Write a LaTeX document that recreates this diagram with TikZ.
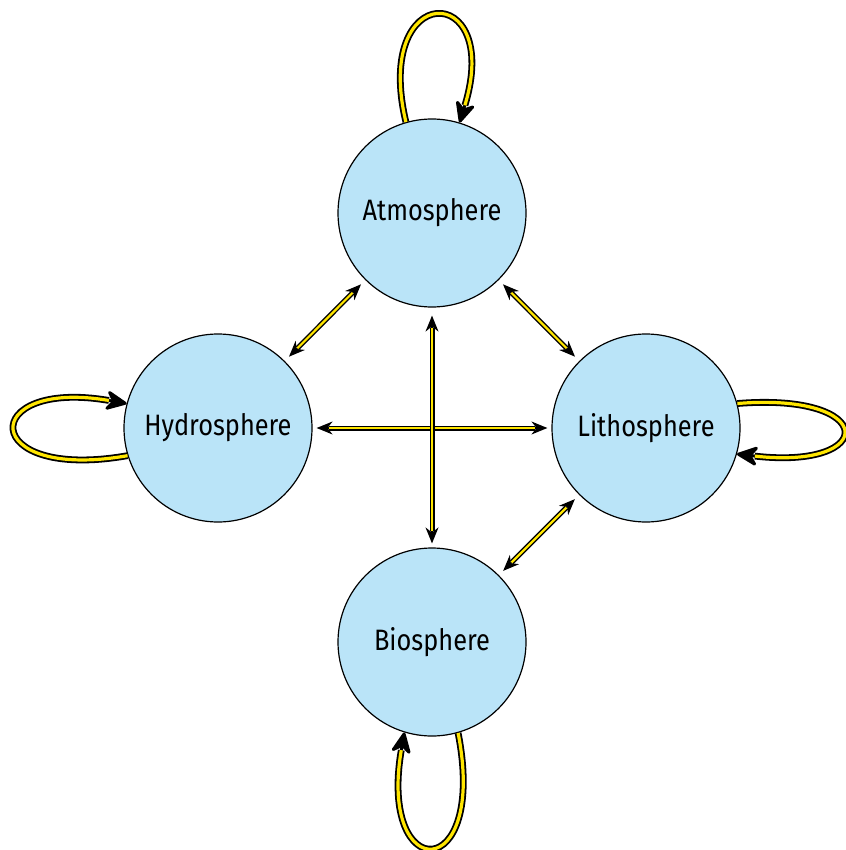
\documentclass[tikz,border=0pt]{standalone}
\usepackage{fontspec}
\setmainfont[FakeStretch=0.86]{Fira Sans}
\usetikzlibrary{arrows.meta}
\definecolor{sphere}{RGB}{186,228,248}
\definecolor{flow}{RGB}{255,230,0}
\begin{document}
\begin{tikzpicture}[x=1pt,y=-1pt,
  sphere/.style={circle,draw=black,line width=1.2pt,fill=sphere,minimum size=188pt,inner sep=0pt,font=\fontsize{29.5}{34}\selectfont},
  linktip/.style={draw=black,line width=1.5pt,
    {Stealth[length=16pt,width=13pt]}-{Stealth[length=16pt,width=13pt]}},
  linkbody/.style={draw=black,line width=1.4pt,double=flow,double distance=2.2pt},
  looptip/.style={draw=black,line width=3pt,
    -{Stealth[length=25pt,width=23pt,round]}},
  loopbody/.style={draw=black,line width=1.8pt,double=flow,double distance=3.2pt}]
\useasboundingbox (0,0) rectangle (845,850);
\node[sphere] (atm) at (432,213) {Atmosphere};
\node[sphere] (hyd) at (218,428) {Hydrosphere};
\node[sphere] (lit) at (646,428) {Lithosphere};
\node[sphere] (bio) at (432,642) {Biosphere};
% straight links: tips first, then double body on top
\draw[linktip,shorten <=6pt,shorten >=6pt] (atm) -- (hyd);
\draw[linkbody,shorten <=18pt,shorten >=18pt] (atm) -- (hyd);
\draw[linktip,shorten <=6pt,shorten >=6pt] (atm) -- (lit);
\draw[linkbody,shorten <=18pt,shorten >=18pt] (atm) -- (lit);
\draw[linktip,shorten <=6pt,shorten >=6pt] (lit) -- (bio);
\draw[linkbody,shorten <=18pt,shorten >=18pt] (lit) -- (bio);
\draw[linktip,shorten <=4pt,shorten >=4pt] (hyd) -- (lit);
\draw[linkbody,shorten <=16pt,shorten >=16pt] (hyd) -- (lit);
\draw[linktip,shorten <=8pt,shorten >=4pt] (atm) -- (bio);
\draw[linkbody,shorten <=20pt,shorten >=16pt] (atm) -- (bio);
% self loops
\draw[looptip] (atm.106) .. controls (372,-20) and (503,-20) .. (atm.73);
\draw[loopbody,shorten >=18pt] (atm.106) .. controls (372,-20) and (503,-20) .. (atm.73);
\draw[looptip] (hyd.197) .. controls (-22,482) and (-22,378) .. (hyd.165);
\draw[loopbody,shorten >=18pt] (hyd.197) .. controls (-22,482) and (-22,378) .. (hyd.165);
\draw[looptip] (lit.15) .. controls (878,392) and (878,470) .. (lit.-16);
\draw[loopbody,shorten >=18pt] (lit.15) .. controls (878,392) and (878,470) .. (lit.-16);
\draw[looptip] (bio.-74) .. controls (488,885) and (378,885) .. (bio.-107);
\draw[loopbody,shorten >=18pt] (bio.-74) .. controls (488,885) and (378,885) .. (bio.-107);
\end{tikzpicture}
\end{document}
